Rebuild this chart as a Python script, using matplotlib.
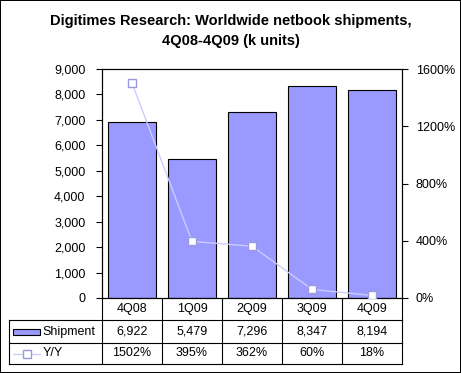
import numpy as np
import matplotlib
matplotlib.use("Agg")
import matplotlib.pyplot as plt
from matplotlib.lines import Line2D
from matplotlib.patches import Rectangle

quarters = ["4Q08", "1Q09", "2Q09", "3Q09", "4Q09"]
shipment = [6922, 5479, 7296, 8347, 8194]
yoy = [1502, 395, 362, 60, 18]
shipment_labels = ["6,922", "5,479", "7,296", "8,347", "8,194"]
yoy_labels = ["1502%", "395%", "362%", "60%", "18%"]

plt.rcParams['font.family'] = ['Liberation Sans', 'DejaVu Sans']
plt.rcParams['font.size'] = 9

W, H = 461, 373
fig = plt.figure(figsize=(W / 100, H / 100), dpi=100)
fig.patch.set_facecolor("white")
fig.patch.set_edgecolor("black")
fig.patch.set_linewidth(1.2)

# pixel helpers
def fx(px):
    return px / W

def fy(py):
    return 1 - py / H

left, right, top, bottom = 102, 402, 69, 298
ax = fig.add_axes([fx(left), fy(bottom), fx(right) - fx(left), fy(top) - fy(bottom)])
x = np.arange(len(quarters))
ax.bar(x, shipment, width=0.8, color="#9999FF", edgecolor="black", linewidth=0.8, zorder=2)
ax.set_xlim(-0.5, len(quarters) - 0.5)
ax.set_ylim(0, 9000)
ax.set_yticks(np.arange(0, 9001, 1000))
ax.set_yticklabels([f"{v:,}" for v in range(0, 9001, 1000)])
ax.set_xticks([])
ax.tick_params(axis="y", direction="out", length=4, width=0.8, pad=8)
for s in ax.spines.values():
    s.set_linewidth(0.8)

ax2 = ax.twinx()
ax2.plot(x, yoy, color="#CCCCFF", linewidth=1, marker="s", markersize=6,
         markerfacecolor="white", markeredgecolor="#9999DD", markeredgewidth=1, zorder=3)
ax2.set_ylim(0, 1600)
ax2.set_yticks(np.arange(0, 1601, 400))
ax2.set_yticklabels([f"{v}%" for v in range(0, 1601, 400)])
ax2.tick_params(axis="y", direction="out", length=4, width=0.8, pad=6)
for s in ax2.spines.values():
    s.set_linewidth(0.8)

fig.text(0.5, fy(31), "Digitimes Research: Worldwide netbook shipments,\n4Q08-4Q09 (k units)",
         ha="center", va="center", fontsize=10.5, fontweight="bold", linespacing=1.5)

# data table below the plot
row_y = [298, 320, 343, 364]
col_x = [left + i * (right - left) / len(quarters) for i in range(len(quarters) + 1)]
lab_left = 9
lw = 0.8

def hline(y, x0, x1):
    fig.add_artist(Line2D([fx(x0), fx(x1)], [fy(y), fy(y)], color="black", lw=lw))

def vline(xp, y0, y1):
    fig.add_artist(Line2D([fx(xp), fx(xp)], [fy(y0), fy(y1)], color="black", lw=lw))

for y in row_y[1:]:
    hline(y, lab_left, right)
for xp in col_x:
    vline(xp, row_y[0], row_y[-1])
vline(lab_left, row_y[1], row_y[-1])

rows = [quarters, shipment_labels, yoy_labels]
for r, labels in enumerate(rows):
    yc = (row_y[r] + row_y[r + 1]) / 2
    for i, lab in enumerate(labels):
        xc = (col_x[i] + col_x[i + 1]) / 2
        fig.text(fx(xc), fy(yc), lab, ha="center", va="center", fontsize=9)

# legend keys in row label cells
yc = (row_y[1] + row_y[2]) / 2
fig.add_artist(Rectangle((fx(13), fy(yc + 3)), fx(40) - fx(13), fy(yc - 3) - fy(yc + 3),
                         facecolor="#9999FF", edgecolor="black", lw=0.8))
fig.text(fx(42), fy(yc), "Shipment", ha="left", va="center", fontsize=9)
yc = (row_y[2] + row_y[3]) / 2
fig.add_artist(Line2D([fx(13), fx(40)], [fy(yc), fy(yc)], color="#CCCCFF", lw=1))
fig.add_artist(Line2D([fx(26.5)], [fy(yc)], marker="s", markersize=6, markerfacecolor="white",
                      markeredgecolor="#9999DD", lw=0))
fig.text(fx(43), fy(yc), "Y/Y", ha="left", va="center", fontsize=9)

fig.savefig("out.png", dpi=100)
